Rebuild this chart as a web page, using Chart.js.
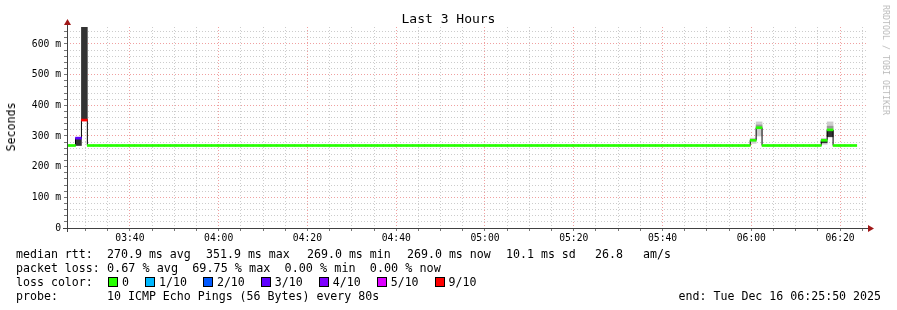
<!DOCTYPE html>
<html>
<head>
<meta charset="utf-8">
<script src="https://cdn.jsdelivr.net/npm/chart.js@4/dist/chart.umd.min.js"></script>
<style>
  body { margin: 0; background: #fff; }
  #wrap { position: relative; width: 897px; height: 310px; font-family: "DejaVu Sans Mono", monospace; color: #000; }
  #chart { position: absolute; left: 0; top: 0; }
  .t { position: absolute; white-space: pre; font-size: 11.6px; line-height: 14px; }
  #title { position: absolute; left: 0; top: 11px; width: 897px; text-align: center; font-size: 13px; }
  #ylabel { position: absolute; left: 11px; top: 127px; font-size: 11.6px; transform: translate(-50%, -50%) rotate(-90deg); white-space: pre; }
  #mark { position: absolute; left: 886px; top: 60px; font-size: 8.3px; color: #bbb; transform: translate(-50%, -50%) rotate(90deg); white-space: pre; }
  #lossrow { position: absolute; left: 108px; top: 275px; display: flex; align-items: center; height: 14px; font-size: 11.6px; }
  #lossrow span.item { display: flex; align-items: center; margin-right: 16px; }
  #lossrow span.box { display: inline-block; width: 8px; height: 8px; border: 1px solid #000; margin-right: 4px; }
</style>
</head>
<body>
<div id="wrap">
  <canvas id="chart" width="897" height="310"></canvas>
  <div id="title">Last 3 Hours</div>
  <div id="ylabel">Seconds</div>
  <div id="mark">RRDTOOL / TOBI OETIKER</div>

  <div class="t" style="left:16px;top:247px">median rtt:</div>
  <div class="t" style="left:107px;top:247px">270.9 ms avg</div>
  <div class="t" style="left:206px;top:247px">351.9 ms max</div>
  <div class="t" style="left:307px;top:247px">269.0 ms min</div>
  <div class="t" style="left:407px;top:247px">269.0 ms now</div>
  <div class="t" style="left:506px;top:247px">10.1 ms sd</div>
  <div class="t" style="left:595px;top:247px">26.8</div>
  <div class="t" style="left:643px;top:247px">am/s</div>

  <div class="t" style="left:16px;top:261px">packet loss:</div>
  <div class="t" style="left:107px;top:261px;font-size:11.8px">0.67 % avg  69.75 % max  0.00 % min  0.00 % now</div>

  <div class="t" style="left:16px;top:275px">loss color:</div>
  <div id="lossrow"></div>

  <div class="t" style="left:16px;top:289px">probe:</div>
  <div class="t" style="left:107px;top:289px">10 ICMP Echo Pings (56 Bytes) every 80s</div>
  <div class="t" style="right:16px;top:289px">end: Tue Dec 16 06:25:50 2025</div>
</div>
<script>
// time axis, seconds after midnight
const viewStart = 12350;   // 03:25:50
const viewEnd = 23150;     // 06:25:50
const stepStart = 12305;   // start of first 80 s step
const stepLength = 80;

// median rtt per step (ms)
const median = [
  269, 269, 293, 351.9, 269, 269, 269, 269, 269, 269,
  269, 269, 269, 269, 269, 269, 269, 269, 269, 269,
  269, 269, 269, 269, 269, 269, 269, 269, 269, 269,
  269, 269, 269, 269, 269, 269, 269, 269, 269, 269,
  269, 269, 269, 269, 269, 269, 269, 269, 269, 269,
  269, 269, 269, 269, 269, 269, 269, 269, 269, 269,
  269, 269, 269, 269, 269, 269, 269, 269, 269, 269,
  269, 269, 269, 269, 269, 269, 269, 269, 269, 269,
  269, 269, 269, 269, 269, 269, 269, 269, 269, 269,
  269, 269, 269, 269, 269, 269, 269, 269, 269, 269,
  269, 269, 269, 269, 269, 269, 269, 269, 269, 269,
  269, 269, 269, 269, 269, 269, 286, 327, 269, 269,
  269, 269, 269, 269, 269, 269, 269, 269, 286, 320,
  269, 269, 269, 269
];

// lost pings out of 10 per step
const loss = [
  0, 0, 3, 9, 0, 0, 0, 0, 0, 0,
  0, 0, 0, 0, 0, 0, 0, 0, 0, 0,
  0, 0, 0, 0, 0, 0, 0, 0, 0, 0,
  0, 0, 0, 0, 0, 0, 0, 0, 0, 0,
  0, 0, 0, 0, 0, 0, 0, 0, 0, 0,
  0, 0, 0, 0, 0, 0, 0, 0, 0, 0,
  0, 0, 0, 0, 0, 0, 0, 0, 0, 0,
  0, 0, 0, 0, 0, 0, 0, 0, 0, 0,
  0, 0, 0, 0, 0, 0, 0, 0, 0, 0,
  0, 0, 0, 0, 0, 0, 0, 0, 0, 0,
  0, 0, 0, 0, 0, 0, 0, 0, 0, 0,
  0, 0, 0, 0, 0, 0, 0, 0, 0, 0,
  0, 0, 0, 0, 0, 0, 0, 0, 0, 0,
  0, 0, 0, 0
];

// smoke bands (ping spread), by step index
const lightSteps = [116, 117, 128, 129];
const lightLow = [276, 300, 273, 296];
const lightHigh = [293, 346, 292, 346];
const midSteps = [117, 129];
const midLow = [329, 325];
const midHigh = [336, 332];
const darkSteps = [2, 3, 128, 129];
const darkLow = [269, 353, 278, 298];
const darkHigh = [291, 660, 283, 316];

const timeLabels = ['03:40', '04:00', '04:20', '04:40', '05:00', '05:20', '05:40', '06:00', '06:20'];
const rttLabels = ['0', '100 m', '200 m', '300 m', '400 m', '500 m', '600 m'];

const lossNames = ['0', '1/10', '2/10', '3/10', '4/10', '5/10', '9/10'];
const lossLegendColors = ['#26ff00', '#00b8ff', '#0059ff', '#5e00ff', '#7e00ff', '#dd00ff', '#ff0000'];
const lossColors = ['#26ff00', '#00b8ff', '#0059ff', '#5e00ff', '#7e00ff', '#dd00ff', '#dd00ff', '#dd00ff', '#dd00ff', '#ff0000', '#ff0000'];

// loss colour legend
const row = document.getElementById('lossrow');
lossNames.forEach((name, i) => {
  const item = document.createElement('span');
  item.className = 'item';
  const box = document.createElement('span');
  box.className = 'box';
  box.style.background = lossLegendColors[i];
  item.appendChild(box);
  item.appendChild(document.createTextNode(name));
  row.appendChild(item);
});

const mid = i => stepStart + stepLength * (i + 0.5);
const band = (steps, lo, hi) => steps.map((s, k) => ({ x: mid(s), y: [lo[k], hi[k]] }));
const HALF = 3.3; // half thickness of the median mark, ms

const axisArrows = {
  id: 'axisArrows',
  afterDraw(chart) {
    const { ctx, chartArea: a } = chart;
    const x0 = a.left + 0.5, y0 = a.bottom + 0.5;
    ctx.save();
    ctx.strokeStyle = '#404040';
    ctx.lineWidth = 1;
    ctx.beginPath();
    ctx.moveTo(x0, a.bottom + 4);
    ctx.lineTo(x0, a.top - 3);
    ctx.moveTo(a.left - 4, y0);
    ctx.lineTo(a.right + 3, y0);
    ctx.stroke();
    ctx.fillStyle = '#a01818';
    ctx.beginPath();
    ctx.moveTo(x0 - 3.5, a.top - 2);
    ctx.lineTo(x0 + 3.5, a.top - 2);
    ctx.lineTo(x0, a.top - 8);
    ctx.closePath();
    ctx.fill();
    ctx.beginPath();
    ctx.moveTo(a.right + 2, y0 - 3.5);
    ctx.lineTo(a.right + 2, y0 + 3.5);
    ctx.lineTo(a.right + 8, y0);
    ctx.closePath();
    ctx.fill();
    ctx.restore();
  }
};

const hhmm = v => timeLabels[(v - 13200) / 1200];

new Chart(document.getElementById('chart'), {
  type: 'bar',
  data: {
    datasets: [
      {
        type: 'bar', label: 'median', order: 0, grouped: false,
        data: median.map((m, i) => ({ x: mid(i), y: [m - HALF, m + HALF] })),
        backgroundColor: loss.map(l => lossColors[l]),
        borderWidth: 0, barPercentage: 1, categoryPercentage: 1
      },
      {
        type: 'line', label: 'step', order: 1,
        data: median.map((m, i) => ({ x: mid(i), y: m })),
        stepped: 'middle', borderColor: '#000', borderWidth: 1, pointRadius: 0
      },
      {
        type: 'bar', label: 'dark', order: 2, grouped: false,
        data: band(darkSteps, darkLow, darkHigh),
        backgroundColor: '#333', borderWidth: 0, barPercentage: 1, categoryPercentage: 1
      },
      {
        type: 'bar', label: 'mid', order: 3, grouped: false,
        data: band(midSteps, midLow, midHigh),
        backgroundColor: '#999', borderWidth: 0, barPercentage: 1, categoryPercentage: 1
      },
      {
        type: 'bar', label: 'light', order: 4, grouped: false,
        data: band(lightSteps, lightLow, lightHigh),
        backgroundColor: '#cdcdcd', borderWidth: 0, barPercentage: 1, categoryPercentage: 1
      }
    ]
  },
  options: {
    responsive: false,
    animation: false,
    devicePixelRatio: 1,
    layout: { padding: { left: 0, top: 27, right: 31, bottom: 58 } },
    plugins: { legend: { display: false }, title: { display: false }, tooltip: { enabled: false } },
    scales: {
      x: {
        type: 'linear', min: viewStart, max: viewEnd, offset: false,
        afterBuildTicks: s => {
          const t = [];
          for (let v = 12600; v <= viewEnd; v += 300) t.push({ value: v });
          s.ticks = t;
        },
        afterFit: s => { s.height = 24; },
        ticks: {
          autoSkip: false, maxRotation: 0, padding: 2, color: '#000',
          font: { family: 'DejaVu Sans Mono', size: 9.7 },
          callback: v => (v % 1200 === 0 ? hhmm(v) : '')
        },
        grid: {
          offset: false,
          color: c => (c.tick && c.tick.value % 1200 === 0 ? '#f0a0a0' : '#cccccc'),
          tickColor: '#777', tickLength: 3
        },
        border: { display: false, dash: [1, 2] }
      },
      y: {
        min: 0, max: 655.4,
        afterBuildTicks: s => {
          const t = [];
          for (let v = 0; v <= 640; v += 20) t.push({ value: v });
          s.ticks = t;
        },
        afterFit: s => { s.width = 67; },
        ticks: {
          autoSkip: false, padding: 3, color: '#000',
          font: { family: 'DejaVu Sans Mono', size: 9.7 },
          callback: v => (v % 100 === 0 ? rttLabels[v / 100] : '')
        },
        grid: {
          color: c => (c.tick && c.tick.value % 100 === 0 ? '#f0a0a0' : '#cccccc'),
          tickColor: '#777', tickLength: 3
        },
        border: { display: false, dash: [1, 2] }
      }
    }
  },
  plugins: [axisArrows]
});
</script>
</body>
</html>
